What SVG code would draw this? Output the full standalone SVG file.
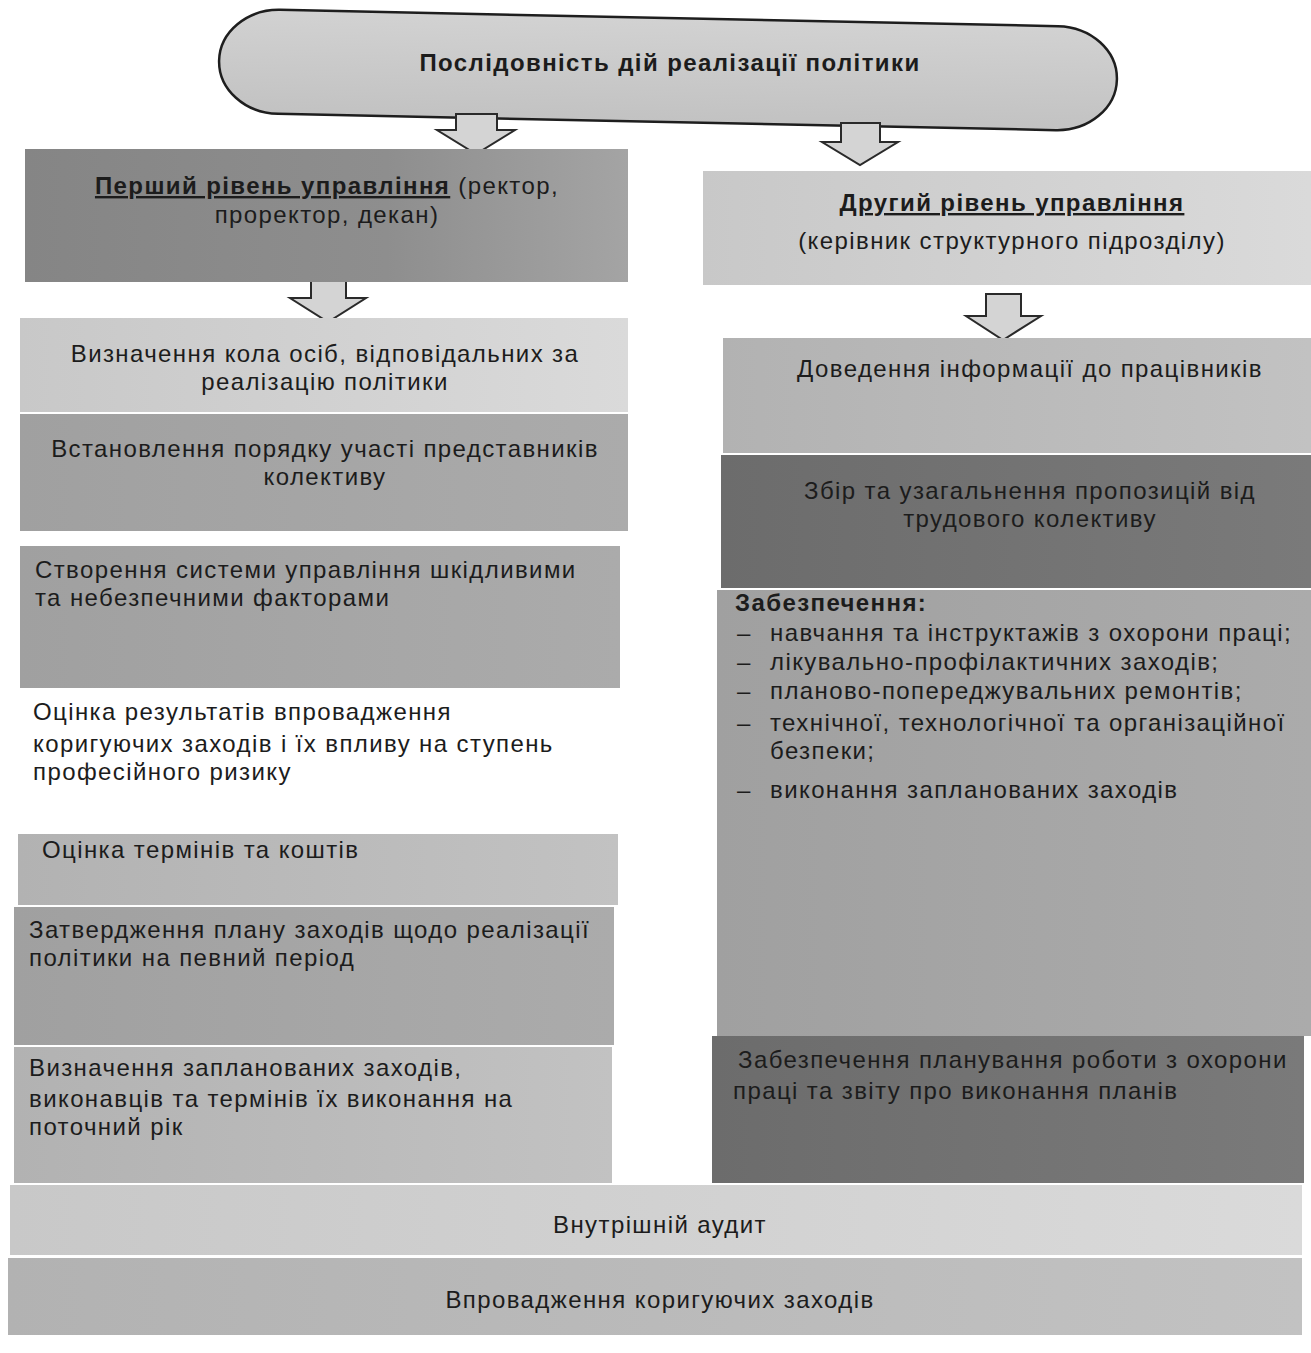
<svg xmlns="http://www.w3.org/2000/svg" width="1311" height="1353" viewBox="0 0 1311 1353">
<defs>
<style>
text{font-family:"Liberation Sans",Arial,sans-serif;font-size:24px;letter-spacing:1.4px;fill:#1c1c1c}
.c{text-anchor:middle}
.b{font-weight:bold}
.u{text-decoration:underline}
.arrow{fill:#d4d4d4;stroke:#2a2a2a;stroke-width:2;stroke-linejoin:miter}
</style>
<linearGradient id="gDark" x1="0" y1="0" x2="1" y2="0"><stop offset="0" stop-color="#858585"/><stop offset="0.6" stop-color="#8e8e8e"/><stop offset="1" stop-color="#a4a4a4"/></linearGradient>
<linearGradient id="gLight" x1="0" y1="0" x2="1" y2="0"><stop offset="0" stop-color="#c8c8c8"/><stop offset="1" stop-color="#dadada"/></linearGradient>
<linearGradient id="gMid" x1="0" y1="0" x2="1" y2="0"><stop offset="0" stop-color="#b2b2b2"/><stop offset="1" stop-color="#c2c2c2"/></linearGradient>
<linearGradient id="gMid2" x1="0" y1="0" x2="1" y2="0"><stop offset="0" stop-color="#a0a0a0"/><stop offset="1" stop-color="#ababab"/></linearGradient>
<linearGradient id="gDeep" x1="0" y1="0" x2="1" y2="0"><stop offset="0" stop-color="#6c6c6c"/><stop offset="1" stop-color="#7a7a7a"/></linearGradient>
<linearGradient id="gEll" x1="0" y1="0" x2="0" y2="1"><stop offset="0" stop-color="#d2d2d2"/><stop offset="1" stop-color="#c2c2c2"/></linearGradient>
</defs>
<rect width="1311" height="1353" fill="#ffffff"/>

<g id="title">
<rect x="219" y="18" width="898" height="104" rx="60" ry="52" fill="url(#gEll)" stroke="#1e1e1e" stroke-width="2.5" transform="rotate(1.2 668 70)"/>
<text x="670" y="71" class="c b">Послідовність дій реалізації політики</text>
</g>

<g id="connectors">
<path class="arrow" d="M456,114 L497,114 L497,130 L515,130 L476,154 L437,130 L456,130 Z"/>
<path class="arrow" d="M841,123 L880,123 L880,142 L898,142 L860,165 L822,142 L841,142 Z"/>
<path class="arrow" d="M311,276 L346,276 L346,298 L366,298 L328,322 L290,298 L311,298 Z"/>
<path class="arrow" d="M986,294 L1021,294 L1021,316 L1041,316 L1003,340 L966,316 L986,316 Z"/>
</g>

<g id="level1">
<rect x="25" y="149" width="603" height="133" fill="url(#gDark)"/>
<text x="327" y="194" class="c"><tspan class="b u">Перший рівень управління</tspan> (ректор,</text>
<text x="327" y="223" class="c">проректор, декан)</text>
</g>

<g id="level2">
<rect x="703" y="171" width="608" height="114" fill="url(#gLight)"/>
<text x="1012" y="211" class="c b u">Другий рівень управління</text>
<text x="1012" y="249" class="c">(керівник структурного підрозділу)</text>
</g>

<g id="l1">
<rect x="20" y="318" width="608" height="94" fill="url(#gLight)"/>
<text x="325" y="362" class="c">Визначення кола осіб, відповідальних за</text>
<text x="325" y="390" class="c">реалізацію політики</text>
</g>
<g id="l2">
<rect x="20" y="414" width="608" height="117" fill="url(#gMid2)"/>
<text x="325" y="457" class="c">Встановлення порядку участі представників</text>
<text x="325" y="485" class="c">колективу</text>
</g>
<g id="l3">
<rect x="20" y="546" width="600" height="142" fill="url(#gMid2)"/>
<text x="35" y="578">Створення системи управління шкідливими</text>
<text x="35" y="606">та небезпечними факторами</text>
</g>
<g id="l4">
<text x="33" y="720">Оцінка результатів впровадження</text>
<text x="33" y="752">коригуючих заходів і їх впливу на ступень</text>
<text x="33" y="780">професійного ризику</text>
</g>
<g id="l5">
<rect x="18" y="834" width="600" height="71" fill="url(#gMid)"/>
<text x="42" y="858">Оцінка термінів та коштів</text>
</g>
<g id="l6">
<rect x="14" y="907" width="600" height="138" fill="url(#gMid2)"/>
<text x="29" y="938">Затвердження плану заходів щодо реалізації</text>
<text x="29" y="966">політики на певний період</text>
</g>
<g id="l7">
<rect x="14" y="1047" width="598" height="136" fill="url(#gMid)"/>
<text x="29" y="1076">Визначення запланованих заходів,</text>
<text x="29" y="1107">виконавців та термінів їх виконання на</text>
<text x="29" y="1135">поточний рік</text>
</g>

<g id="r1">
<rect x="723" y="338" width="588" height="115" fill="url(#gMid)"/>
<text x="1030" y="377" class="c">Доведення інформації до працівників</text>
</g>
<g id="r2">
<rect x="721" y="455" width="590" height="133" fill="url(#gDeep)"/>
<text x="1030" y="499" class="c">Збір та узагальнення пропозицій від</text>
<text x="1030" y="527" class="c">трудового колективу</text>
</g>
<g id="r3">
<rect x="717" y="590" width="594" height="446" fill="url(#gMid2)"/>
<text x="735" y="611" class="b">Забезпечення:</text>
<text x="737" y="641">–</text><text x="770" y="641">навчання та інструктажів з охорони праці;</text>
<text x="737" y="670">–</text><text x="770" y="670">лікувально-профілактичних заходів;</text>
<text x="737" y="699">–</text><text x="770" y="699">планово-попереджувальних ремонтів;</text>
<text x="737" y="731">–</text><text x="770" y="731">технічної, технологічної та  організаційної</text>
<text x="770" y="759">безпеки;</text>
<text x="737" y="798">–</text><text x="770" y="798">виконання запланованих заходів</text>
</g>
<g id="r4">
<rect x="712" y="1036" width="592" height="147" fill="url(#gDeep)"/>
<text x="738" y="1068">Забезпечення планування роботи з охорони</text>
<text x="733" y="1099">праці та звіту про виконання планів</text>
</g>

<g id="audit">
<rect x="10" y="1185" width="1292" height="70" fill="url(#gLight)"/>
<text x="660" y="1233" class="c">Внутрішній аудит</text>
</g>
<g id="corrective">
<rect x="8" y="1258" width="1294" height="77" fill="url(#gMid)"/>
<text x="660" y="1308" class="c">Впровадження коригуючих заходів</text>
</g>
</svg>
